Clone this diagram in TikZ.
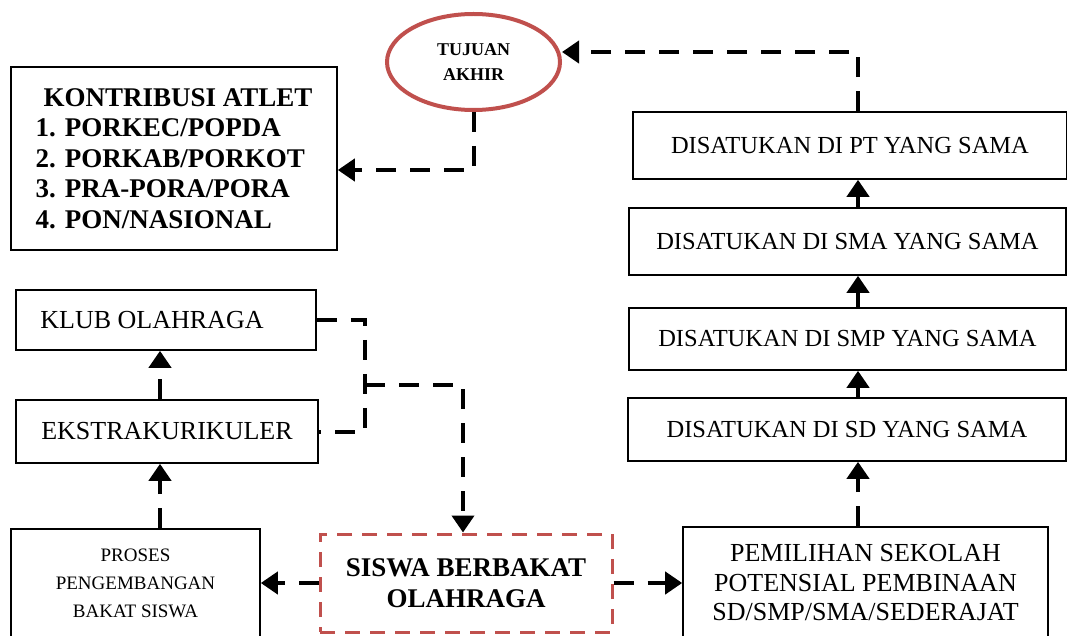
\documentclass[tikz,border=0pt]{standalone}
\usepackage{fontspec}
\setmainfont{Liberation Serif}
\usetikzlibrary{arrows.meta,shapes.geometric}
\definecolor{akhirred}{HTML}{C0504D}

\begin{document}
\begin{tikzpicture}[x=1pt,y=-1pt,
              box/.style={draw,line width=1.6pt,inner sep=0pt,align=center,
                font=\fontsize{24.5}{29.5}\selectfont},
              dashline/.style={line width=4pt,dash pattern=on 20pt off 14pt},
              dasharrow/.style={dashline,-{Triangle[length=17pt,width=22pt]}}]
              \useasboundingbox (0,0) rectangle (1067,636);
              \node[ellipse,draw=akhirred,line width=4pt,minimum width=173pt,minimum height=96pt,
                align=center,font=\fontsize{18}{25}\selectfont\bfseries] (tujuan) at (473.5,62) {TUJUAN\\AKHIR};
              \node[box,minimum width=326pt,minimum height=183pt,align=left,
                font=\fontsize{27}{30.5}\selectfont\bfseries] (kontribusi) at (174,158.5)
                {\hspace{8pt}KONTRIBUSI ATLET\\1. PORKEC/POPDA\\2. PORKAB/PORKOT\hspace{20pt}\\3. PRA-PORA/PORA\\4. PON/NASIONAL};
              % jalur sekolah
              \node[box,minimum width=434pt,minimum height=67pt] (pt) at (850,145.5) {DISATUKAN DI PT YANG SAMA};
              \node[box,minimum width=437pt,minimum height=67pt] (sma) at (847.5,241.5) {DISATUKAN DI SMA YANG SAMA};
              \node[box,minimum width=437pt,minimum height=62pt] (smp) at (847.5,339) {DISATUKAN DI SMP YANG SAMA};
              \node[box,minimum width=438pt,minimum height=63pt] (sd) at (847,429.5) {DISATUKAN DI SD YANG SAMA};
              \node[box,minimum width=365pt,minimum height=112pt,
                font=\fontsize{26}{29.5}\selectfont] (pemilihan) at (865.5,583)
                {PEMILIHAN SEKOLAH\\POTENSIAL PEMBINAAN\\SD/SMP/SMA/SEDERAJAT};
              % jalur klub
              \node[box,minimum width=300pt,minimum height=60pt,
                font=\fontsize{26}{30}\selectfont] (klub) at (166,320) {KLUB OLAHRAGA\hspace{28pt}};
              \node[box,minimum width=302pt,minimum height=63pt,
                font=\fontsize{26}{30}\selectfont] (ekstra) at (167,431.5) {EKSTRAKURIKULER};
              \node[box,minimum width=249pt,minimum height=108pt,
                font=\fontsize{19}{28}\selectfont] (proses) at (135.5,583) {PROSES\\PENGEMBANGAN\\BAKAT SISWA};
              \node[box,draw=akhirred,line width=3pt,dash pattern=on 15pt off 10pt,
                minimum width=292pt,minimum height=98pt,
                font=\fontsize{27}{31}\selectfont\bfseries] (siswa) at (466,583) {SISWA BERBAKAT\\OLAHRAGA};

              \coordinate (join) at (365,385);
              \draw[dashline] (klub.east) -| (join) |- (ekstra.east);
              \draw[dasharrow] (join) -| ([xshift=-3pt]siswa.north);
              \draw[dasharrow] (siswa.west) -- (proses.east);
              \draw[dasharrow] (siswa.east) -- (pemilihan.west);
              \draw[dasharrow] ([xshift=-7pt]ekstra.south |- proses.north) -- ([xshift=-7pt]ekstra.south);
              \draw[dasharrow] ([xshift=-7pt]ekstra.north) -- ([xshift=-7pt]ekstra.north |- klub.south);
              \draw[dasharrow] ([xshift=-7.5pt]pemilihan.north) -- ([xshift=-7.5pt]pemilihan.north |- sd.south);
              \draw[dasharrow] ([xshift=-7.5pt]pemilihan.north |- sd.north) -- ([xshift=-7.5pt]pemilihan.north |- smp.south);
              \draw[dasharrow] ([xshift=-7.5pt]pemilihan.north |- smp.north) -- ([xshift=-7.5pt]pemilihan.north |- sma.south);
              \draw[dasharrow] ([xshift=-7.5pt]pemilihan.north |- sma.north) -- ([xshift=-7.5pt]pemilihan.north |- pt.south);
              \draw[dasharrow] ([xshift=8pt]pt.north) |- ([yshift=10pt]tujuan.east);
              \draw[dasharrow] (tujuan.south) |- ([yshift=-11.5pt]kontribusi.east);
\end{tikzpicture}
\end{document}
